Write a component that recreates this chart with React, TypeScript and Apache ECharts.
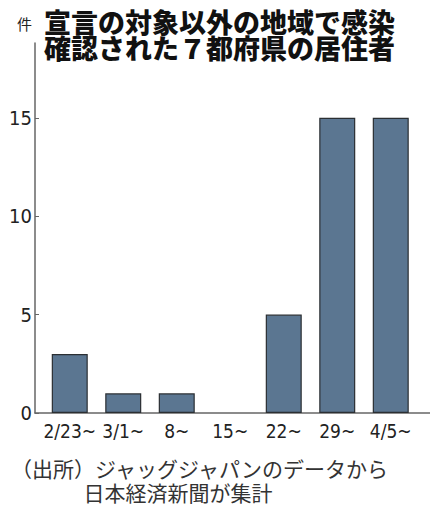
import React, { useEffect, useRef } from "react";
import * as echarts from "echarts";

const categories = ["2/23~", "3/1~", "8~", "15~", "22~", "29~", "4/5~"];
const counts = [3, 1, 1, 0, 5, 15, 15];
const yTicks = [0, 5, 10, 15];
const titleLines = ["宣言の対象以外の地域で感染", "確認された７都府県の居住者"];
const unitLabel = "件";
const sourceLines = ["（出所）ジャッグジャパンのデータから", "日本経済新聞が集計"];

const NARROW = "'DejaVu Sans Condensed', 'Liberation Sans Narrow', sans-serif";
const CJK = "'Noto Sans CJK JP', sans-serif";

export default function App() {
  const ref = useRef<HTMLDivElement>(null);
  useEffect(() => {
    if (!ref.current) return;
    const chart = echarts.init(ref.current, null, { renderer: "svg" });
    const yMax = 18.8;
    chart.setOption({
      animation: false,
      backgroundColor: "#ffffff",
      grid: [
        { left: 43, top: 43, width: 374.5, height: 370 },
        { left: 35, top: 43, right: 0, height: 370 },
      ],
      xAxis: [
        {
          gridIndex: 0,
          type: "category",
          data: categories,
          axisLine: { show: false },
          axisTick: { show: false },
          axisLabel: {
            fontFamily: NARROW,
            fontSize: 19,
            color: "#222",
            margin: 8,
            interval: 0,
          },
        },
        {
          gridIndex: 1,
          type: "value",
          min: 0,
          max: 1,
          axisLine: { show: true, lineStyle: { color: "#666", width: 1.5 } },
          axisTick: { show: false },
          axisLabel: { show: false },
          splitLine: { show: false },
        },
      ],
      yAxis: [
        {
          gridIndex: 0,
          type: "value",
          min: 0,
          max: yMax,
          show: false,
          splitLine: { show: false },
        },
        {
          gridIndex: 1,
          type: "value",
          min: 0,
          max: yMax,
          axisLine: { show: true, lineStyle: { color: "#666", width: 1.5 } },
          axisTick: {
            show: true,
            inside: true,
            length: 4,
            customValues: yTicks,
            lineStyle: { color: "#666" },
          },
          axisLabel: {
            customValues: yTicks,
            fontFamily: NARROW,
            fontSize: 20,
            color: "#222",
            margin: 3,
          },
          splitLine: { show: false },
        },
      ],
      graphic: [
        {
          type: "text",
          left: 44,
          top: 8,
          style: {
            text: titleLines.join("\n"),
            fontFamily: CJK,
            fontSize: 27,
            lineHeight: 26,
            fontWeight: 900,
            fill: "#111",
          },
        },
        {
          type: "text",
          left: 17,
          top: 16,
          style: { text: unitLabel, fontFamily: CJK, fontSize: 15, fill: "#222" },
        },
        {
          type: "text",
          left: 11,
          top: 456,
          style: {
            text: sourceLines[0] + "\n\u3000\u3000\u3000  " + sourceLines[1],
            fontFamily: CJK,
            fontSize: 21,
            lineHeight: 24,
            fill: "#333",
          },
        },
      ],
      series: [
        {
          type: "bar",
          xAxisIndex: 0,
          yAxisIndex: 0,
          data: counts.map((v) => (v === 0 ? { value: v, itemStyle: { borderWidth: 0 } } : v)),
          barWidth: 36,
          itemStyle: {
            color: "#5b7691",
            borderColor: "#2b2f33",
            borderWidth: 1.2,
          },
        },
      ],
    });
    return () => chart.dispose();
  }, []);
  return (
    <div
      ref={ref}
      style={{ position: "fixed", left: 0, top: 0, width: 430, height: 513, background: "#fff" }}
    />
  );
}
